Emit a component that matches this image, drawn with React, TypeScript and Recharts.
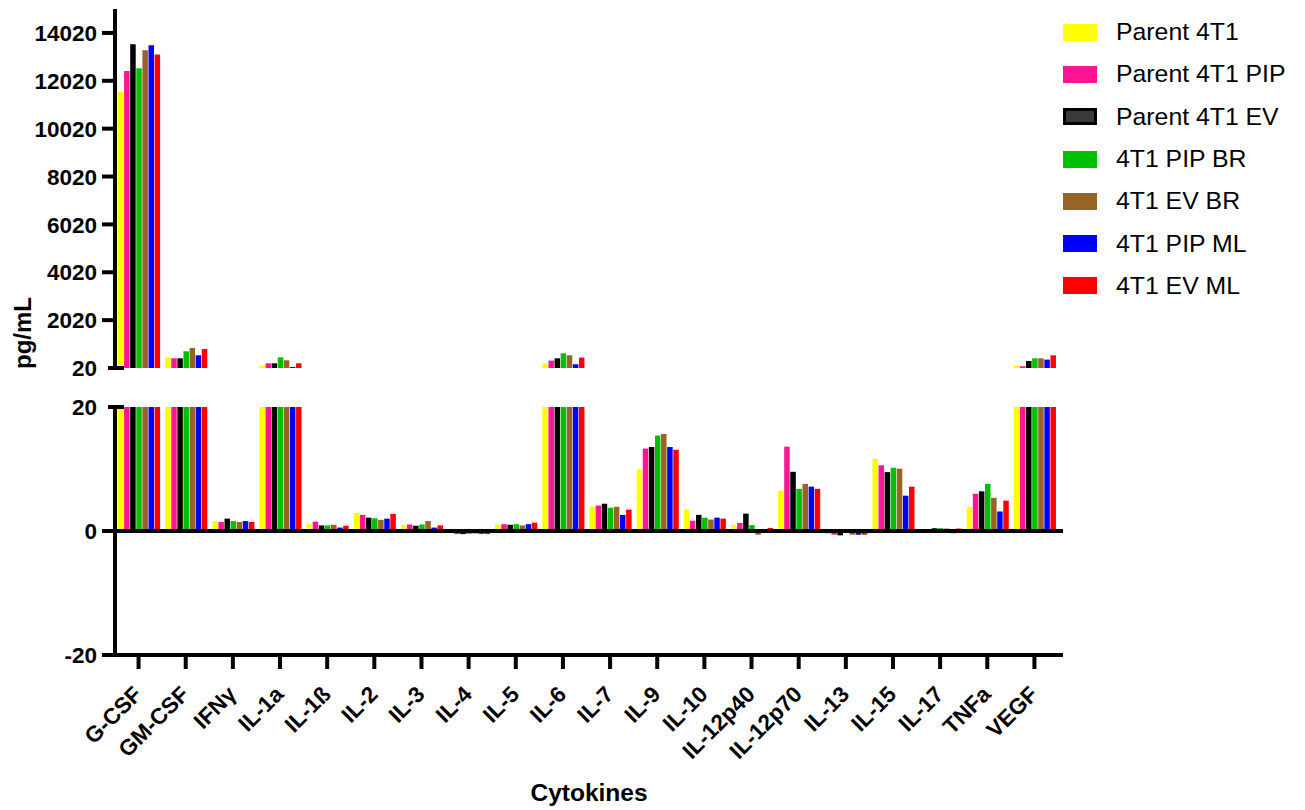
import React from 'react'
import { BarChart, Bar, XAxis, YAxis, ReferenceLine, Legend } from 'recharts'

const cytokines = [
  'G-CSF', 'GM-CSF', 'IFNγ', 'IL-1a', 'IL-1ß', 'IL-2', 'IL-3', 'IL-4', 'IL-5', 'IL-6',
  'IL-7', 'IL-9', 'IL-10', 'IL-12p40', 'IL-12p70', 'IL-13', 'IL-15', 'IL-17', 'TNFa', 'VEGF'
]

// pg/mL per cytokine, same order as above
const parent4T1 = [11556, 467, 1.6, 133, 1.1, 2.9, 1.0, -0.3, 1.05, 216, 3.9, 9.9, 3.45, 0.95, 6.5, -0.5, 11.65, 0.1, 3.85, 104]
const parent4T1PIP = [12430, 425, 1.45, 216, 1.5, 2.6, 1.05, -0.5, 1.1, 329, 4.1, 13.3, 1.65, 1.3, 13.6, -0.6, 10.6, 0.1, 6.0, 91]
const parent4T1EV = [13550, 425, 2.0, 216, 0.9, 2.15, 0.85, -0.5, 1.0, 425, 4.4, 13.55, 2.6, 2.8, 9.55, -0.7, 9.5, 0.45, 6.4, 313]
const pipBR = [12545, 718, 1.6, 467, 0.9, 2.05, 1.05, -0.45, 1.1, 634, 3.75, 15.4, 2.15, 0.95, 6.8, 0.05, 10.2, 0.45, 7.6, 425]
const evBR = [13300, 856, 1.45, 342, 1.0, 1.8, 1.6, -0.4, 0.9, 550, 3.9, 15.65, 1.85, -0.6, 7.6, -0.6, 10.05, 0.4, 5.35, 425]
const pipML = [13505, 551, 1.6, 62, 0.55, 2.0, 0.55, -0.45, 1.1, 175, 2.6, 13.55, 2.15, 0.1, 7.15, -0.6, 5.7, -0.35, 3.15, 370]
const evML = [13120, 814, 1.45, 216, 0.85, 2.75, 0.9, -0.5, 1.35, 455, 3.45, 13.1, 2.0, 0.5, 6.8, -0.6, 7.15, 0.4, 4.9, 550]

const seriesNames = [
  'Parent 4T1', 'Parent 4T1 PIP', 'Parent 4T1 EV', '4T1 PIP BR', '4T1 EV BR', '4T1 PIP ML', '4T1 EV ML'
]
const seriesValues = [parent4T1, parent4T1PIP, parent4T1EV, pipBR, evBR, pipML, evML]
const seriesColors = ['#FFFF00', '#FF1493', '#000000', '#00C000', '#966424', '#0000FF', '#FF0000']

const upperTicks = [20, 2020, 4020, 6020, 8020, 10020, 12020, 14020]
const upperDomain = [20, 15020]
const lowerTicks = [-20, 0, 20]
const lowerDomain = [-20, 20]

const data = cytokines.map((name, i) => {
  const row: Record<string, any> = { name }
  seriesValues.forEach((vals, s) => {
    row[`s${s}`] = vals[i]
  })
  return row
})

const FONT = "'Liberation Sans', Arial, Helvetica, sans-serif"
const AXIS_X = 115
const CHART_W = 1305
const PLOT_RIGHT = 1063
const LOWER_TOP = 390
const LINE_W = 4

// y tick: short tick to the left, or a mark crossing the axis where the axis is broken
const makeYTick = (breakValue: number) => (props: any) => {
  const { y, payload } = props
  const isBreak = payload.value === breakValue
  return (
    <g>
      <line
        x1={isBreak ? AXIS_X - 7 : AXIS_X - 13}
        x2={isBreak ? AXIS_X + 9 : AXIS_X}
        y1={y}
        y2={y}
        stroke='#000'
        strokeWidth={LINE_W}
      />
      <text
        x={AXIS_X - 18}
        y={y}
        dy='0.36em'
        textAnchor='end'
        fontFamily={FONT}
        fontWeight={700}
        fontSize={22.5}
        fill='#000'
      >
        {payload.value}
      </text>
    </g>
  )
}

const X_LABEL_Y = 300

const XTick = (props: any) => {
  const { x, payload } = props
  const ax = x - 1
  return (
    <text
      x={ax}
      y={X_LABEL_Y}
      dy='0.36em'
      textAnchor='end'
      transform={`rotate(-45, ${ax}, ${X_LABEL_Y})`}
      fontFamily={FONT}
      fontWeight={700}
      fontSize={22.5}
      fill='#000'
    >
      {payload.value}
    </text>
  )
}

const renderYTitle = () => (
  <text
    x={31}
    y={333}
    transform='rotate(-90, 31, 333)'
    textAnchor='middle'
    fontFamily={FONT}
    fontWeight={700}
    fontSize={24}
    fill='#000'
  >
    pg/mL
  </text>
)

const renderXTitle = () => (
  <text
    x={589}
    y={411}
    textAnchor='middle'
    fontFamily={FONT}
    fontWeight={700}
    fontSize={24.5}
    fill='#000'
  >
    Cytokines
  </text>
)

const renderLegend = () => (
  <div style={{ fontFamily: FONT, fontSize: 24.8, color: '#000' }}>
    {seriesNames.map((n, i) => (
      <div
        key={n}
        style={{ display: 'flex', alignItems: 'center', height: 42.3 }}
      >
        <span
          style={{
            display: 'inline-block',
            width: 34,
            height: 17,
            boxSizing: 'border-box',
            background: i === 2 ? '#3a3a3a' : seriesColors[i],
            border: i === 2 ? '3px solid #000' : 'none'
          }}
        />
        <span style={{ marginLeft: 19, whiteSpace: 'nowrap' }}>{n}</span>
      </div>
    ))}
  </div>
)

const bars = seriesNames.map((n, i) => (
  <Bar
    key={n}
    dataKey={`s${i}`}
    name={n}
    fill={seriesColors[i]}
    isAnimationActive={false}
  />
))

const axisLine = { stroke: '#000', strokeWidth: LINE_W }

const App: React.FC = () => {
  return (
    <div
      style={{
        position: 'absolute',
        left: 0,
        top: 0,
        width: CHART_W,
        height: 810,
        background: '#fff'
      }}
    >
      {/* upper segment of the broken axis */}
      <div style={{ position: 'absolute', left: 0, top: 0 }}>
        <BarChart
          width={CHART_W}
          height={380}
          data={data}
          margin={{ top: 9, right: CHART_W - PLOT_RIGHT, bottom: 12, left: 0 }}
          barSize={5.5}
          barGap={0.6}
        >
          <XAxis
            dataKey='name'
            type='category'
            hide
            padding={{ left: 0, right: 5 }}
          />
          <YAxis
            type='number'
            width={AXIS_X}
            domain={upperDomain}
            ticks={upperTicks}
            interval={0}
            allowDataOverflow
            axisLine={axisLine}
            tickLine={false}
            tick={makeYTick(20)}
            label={renderYTitle}
          />
          <Legend
            layout='horizontal'
            verticalAlign='middle'
            align='center'
            content={renderLegend}
            wrapperStyle={{ left: 1063, top: 11, width: 240, height: 300 }}
          />
          {bars}
        </BarChart>
      </div>

      {/* lower segment, -20 to 20 */}
      <div style={{ position: 'absolute', left: 0, top: LOWER_TOP }}>
        <BarChart
          width={CHART_W}
          height={420}
          data={data}
          margin={{ top: 17, right: CHART_W - PLOT_RIGHT, bottom: 5, left: 0 }}
          barSize={5.5}
          barGap={0.6}
        >
          <XAxis
            dataKey='name'
            type='category'
            height={150}
            interval={0}
            padding={{ left: 0, right: 5 }}
            axisLine={axisLine}
            tickLine={{ stroke: '#000', strokeWidth: LINE_W }}
            tickSize={14}
            tick={<XTick />}
            label={renderXTitle}
          />
          <YAxis
            type='number'
            width={AXIS_X}
            domain={lowerDomain}
            ticks={lowerTicks}
            interval={0}
            allowDataOverflow
            axisLine={axisLine}
            tickLine={false}
            tick={makeYTick(20)}
          />
          {bars}
          <ReferenceLine y={0} stroke='#000' strokeWidth={LINE_W} />
        </BarChart>
      </div>
    </div>
  )
}

export default App
